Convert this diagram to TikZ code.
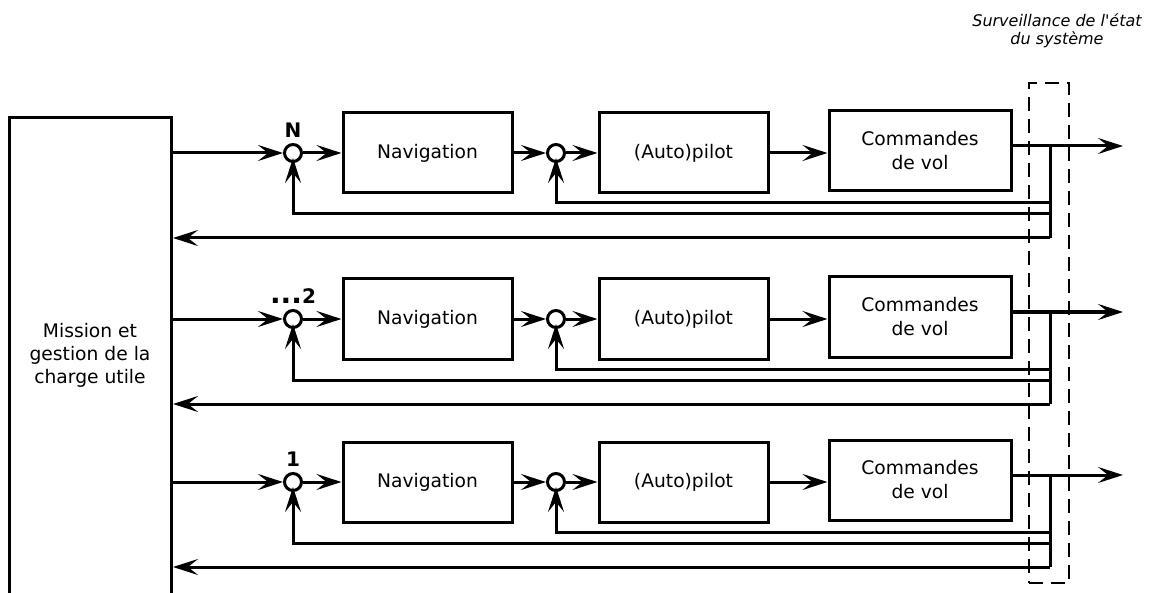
\documentclass[tikz,border=0pt]{standalone}
\usepackage{fontspec}
\setmainfont{DejaVu Sans}
\usetikzlibrary{arrows.meta}

\tikzset{
  block/.style={draw, line width=3pt, minimum width=169pt, minimum height=80pt,
    align=center, font=\fontsize{18.7}{24}\selectfont},
  sum/.style={draw, circle, line width=3pt, minimum size=17pt, inner sep=0pt, fill=white},
  wire/.style={line width=3pt},
  sig/.style={wire, -{Stealth[length=25pt,width=16pt,inset=10pt]}},
  rowlabel/.style={font=\fontsize{20}{20}\selectfont\bfseries}
}

\begin{document}
\begin{tikzpicture}[x=1pt,y=-1pt]
  \useasboundingbox (0,0) rectangle (1150,593);
  \node (mission) [draw, line width=3pt, minimum width=162pt, minimum height=502pt] at (90.5,369) {};
  \node (missiontxt) [align=center, font=\fontsize{18.7}{23}\selectfont] at (90,355) {Mission et\\gestion de la\\charge utile};

  % one loop per row
  \foreach \r/\y/\lab in {1/153/N, 2/319/{\fontsize{28}{28}\selectfont...\fontsize{20}{20}\selectfont2}, 3/482/1} {
    \node (sumA\r) [sum] at (293,\y) {};
    \node (lbl\r) [rowlabel] at (293,\y-23) {\lab};
    \node (nav\r) [block] at (427.5,\y) {Navigation};
    \node (sumB\r) [sum] at (556,\y) {};
    \node (pilot\r) [block] at (683.5,\y) {(Auto)pilot};
    \node (cmd\r) [block, minimum width=182pt] at (920,\y-2) {Commandes\\de vol};
    \coordinate (fb\r) at (1050,\y-7);
    \coordinate (fbB\r) at (1050,\y+50);
    \coordinate (fbA\r) at (1050,\y+61);
    \coordinate (ret\r) at (1050,\y+85);
    \coordinate (out\r) at (1123,\y-7);
    \draw [sig] (mission.east |- sumA\r) -- (sumA\r);
    \draw [sig] (sumA\r) -- (nav\r);
    \draw [sig] (nav\r) -- (sumB\r);
    \draw [sig] (sumB\r) -- (pilot\r);
    \draw [sig] (pilot\r) -- (cmd\r.west |- pilot\r);
    \draw [sig] (cmd\r.east |- fb\r) -- (out\r);
    \draw [wire] (fb\r) -- (ret\r);
    \draw [sig] (fbB\r) -| ([yshift=5pt]sumB\r.south);
    \draw [sig] (fbA\r) -| ([yshift=5pt]sumA\r.south);
    \draw [sig] (ret\r) -- (mission.east |- ret\r);
  }

  \node (watch) [draw, line width=2.6pt, dash pattern=on 14pt off 8pt,
    minimum width=40pt, minimum height=500pt] at (1049,333) {};
  \node (watchtxt) [align=center, font=\fontsize{16}{18}\selectfont\itshape] at (1057,31)
    {Surveillance de l\textquotesingle état\\du système};
\end{tikzpicture}
\end{document}
